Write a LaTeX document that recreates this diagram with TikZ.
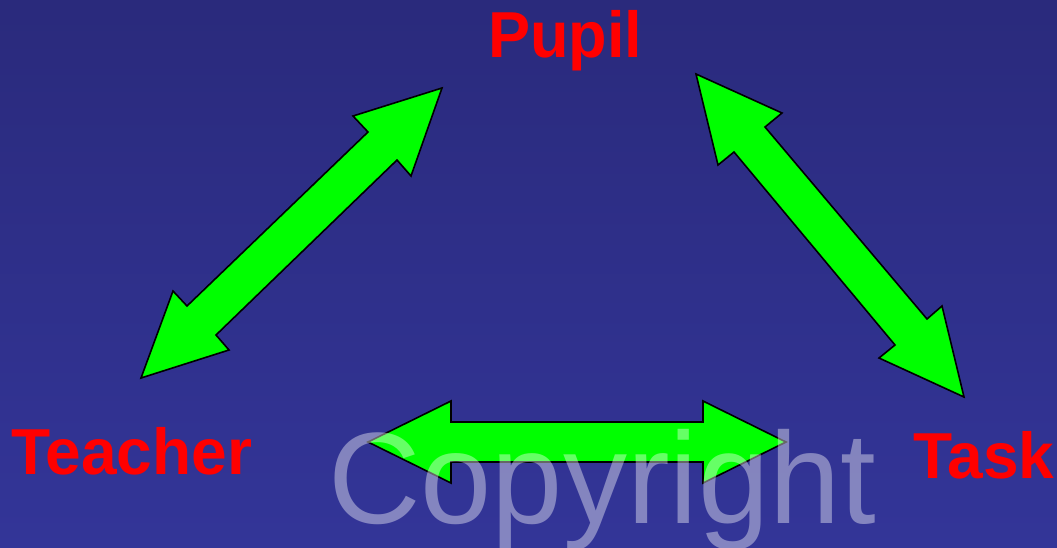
\documentclass[tikz,border=0pt]{standalone}
\usepackage{fontspec}
\setmainfont{Liberation Sans}
\definecolor{bgtop}{RGB}{42,42,124}
\definecolor{bgbot}{RGB}{51,53,152}
\definecolor{arrowgreen}{RGB}{0,255,0}
\tikzset{
  label/.style={text=red, font=\bfseries\fontsize{65}{65}\selectfont, inner sep=0pt, anchor=base west},
  blockarrow/.style={fill=arrowgreen, draw=black, line width=1.6pt, line join=miter},
  watermark/.style={text=white, text opacity=0.4, font=\fontsize{130}{130}\selectfont, inner sep=0pt, anchor=base west}
}
\begin{document}
\begin{tikzpicture}[x=1pt,y=-1pt]
\useasboundingbox (0,0) rectangle (1057,547);
\shade[top color=bgtop, bottom color=bgbot] (0,0) rectangle (1057,547);
% labels
\node[label, xscale=0.97] (pupil) at (488,57) {Pupil};
\node[label, xscale=0.985] (teacher) at (11,474) {Teacher};
\node[label, xscale=0.985] (task) at (913,478) {Task};
% left arrow: Teacher <-> Pupil
\draw[blockarrow] (442,88) -- (353,116) -- (368,132) -- (187,306) -- (173,291) -- (141,378)
  -- (229,350) -- (216,335) -- (397,160) -- (411,176) -- cycle;
% right arrow: Pupil <-> Task
\draw[blockarrow] (696,74) -- (782,113) -- (765,127) -- (927,319) -- (942,306) -- (964,397)
  -- (879,358) -- (895,345) -- (734,152) -- (718,165) -- cycle;
% bottom arrow: Teacher <-> Task
\draw[blockarrow] (368,442) -- (451,401) -- (451,422) -- (703,422) -- (703,401) -- (786,442)
  -- (703,483) -- (703,462) -- (451,462) -- (451,483) -- cycle;
% watermark
\node[watermark, xscale=0.985] (copy) at (328,523) {Copyright};
\end{tikzpicture}
\end{document}
